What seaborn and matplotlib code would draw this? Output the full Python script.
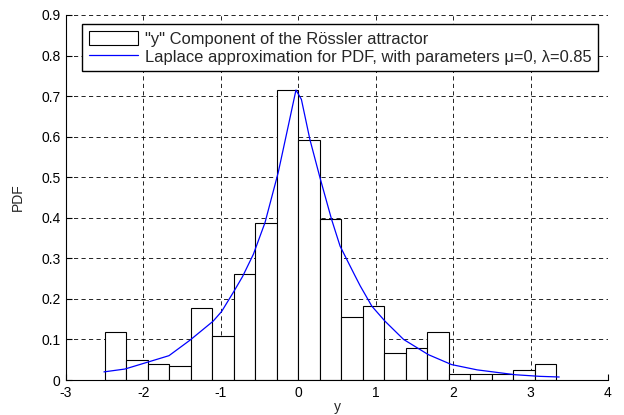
import numpy as np
import pandas as pd
import matplotlib
matplotlib.use("Agg")
import matplotlib.pyplot as plt
import seaborn as sns

# ---- data ----
bin_start = -2.5
bin_end = 3.333
hist_heights = [0.118, 0.049, 0.040, 0.034, 0.178, 0.108, 0.262, 0.386, 0.715,
                0.593, 0.398, 0.155, 0.183, 0.067, 0.079, 0.118, 0.016, 0.016,
                0.016, 0.025, 0.040]

curve_x = [-2.51, -2.24, -1.98, -1.67, -1.40, -1.10, -0.99, -0.83, -0.72, -0.58,
           -0.43, -0.26, -0.13, -0.03, 0.04, 0.15, 0.28, 0.43, 0.54, 0.73,
           0.80, 0.95, 1.12, 1.36, 1.68, 1.98, 2.31, 2.80, 3.12, 3.37]
curve_y = [0.020, 0.027, 0.042, 0.060, 0.098, 0.145, 0.169, 0.219, 0.255, 0.310,
           0.388, 0.511, 0.626, 0.715, 0.692, 0.593, 0.499, 0.396, 0.330, 0.258,
           0.232, 0.182, 0.145, 0.100, 0.0625, 0.038, 0.025, 0.013, 0.009, 0.0074]

x_ticks = [-3, -2, -1, 0, 1, 2, 3, 4]
y_ticks = [0, 0.1, 0.2, 0.3, 0.4, 0.5, 0.6, 0.7, 0.8, 0.9]
y_tick_labels = ["0", "0.1", "0.2", "0.3", "0.4", "0.5", "0.6", "0.7", "0.8", "0.9"]

hist_label = '"y" Component of the Rössler attractor'
curve_label = 'Laplace approximation for PDF, with parameters μ=0, λ=0.85'

# ---- build ----
edges = [float(e) for e in np.linspace(bin_start, bin_end, len(hist_heights) + 1)]
centers = [(edges[i] + edges[i + 1]) / 2 for i in range(len(hist_heights))]
df_hist = pd.DataFrame({"y": centers, "w": hist_heights})
df_curve = pd.DataFrame({"x": curve_x, "pdf": curve_y})

sns.set_style("white")
plt.rcParams["font.family"] = ["Liberation Sans", "DejaVu Sans"]

fig = plt.figure(figsize=(6.24, 4.15), dpi=100)
ax = fig.add_axes([66 / 624, 1 - 380 / 415, 542 / 624, 365 / 415])

sns.histplot(data=df_hist, x="y", weights="w", bins=edges, stat="count",
             color="white", edgecolor="black", linewidth=0.8, alpha=1,
             ax=ax, label=hist_label, zorder=2)
sns.lineplot(data=df_curve, x="x", y="pdf", color=(0, 0, 1), linewidth=0.9,
             estimator=None, sort=False, ax=ax, label=curve_label, zorder=3)

ax.set_xlim(-3, 4)
ax.set_ylim(0, 0.9)
ax.set_xticks(x_ticks)
ax.set_xticklabels([str(t) for t in x_ticks])
ax.set_yticks(y_ticks)
ax.set_yticklabels(y_tick_labels)
ax.set_axisbelow(True)
ax.grid(True, color="black", linestyle=(0, (5, 4)), linewidth=0.6)
for s in ["top", "right"]:
    ax.spines[s].set_visible(False)
for s in ["left", "bottom"]:
    ax.spines[s].set_color("black")
    ax.spines[s].set_linewidth(0.8)
ax.tick_params(direction="in", length=4, width=0.8, colors="black",
               labelsize=10, left=True, bottom=True, pad=4)
ax.set_xlabel("y", fontsize=10, labelpad=0)
ax.set_ylabel("PDF", fontsize=10, labelpad=12)

handles, labels = ax.get_legend_handles_labels()
order = [labels.index(hist_label), labels.index(curve_label)]
leg = ax.legend([handles[i] for i in order], [labels[i] for i in order],
                loc="upper left", bbox_to_anchor=(0.0295, 0.975), fontsize=11.9,
                frameon=True, fancybox=False, framealpha=1, edgecolor="black",
                handlelength=3.0, handleheight=0.95, borderpad=0.4,
                labelspacing=0.15, handletextpad=0.4, borderaxespad=0)
leg.get_frame().set_linewidth(1.0)

fig.savefig("out.png", dpi=100)
